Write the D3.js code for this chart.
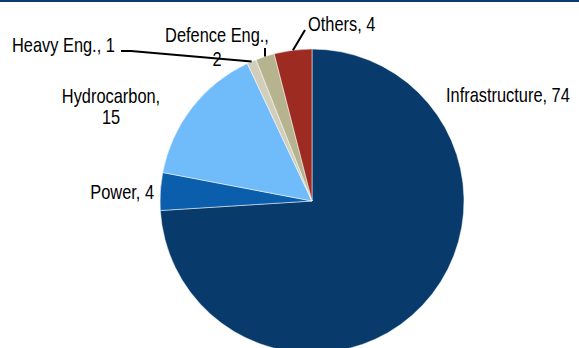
<!DOCTYPE html>
<html>
<head>
<meta charset="utf-8">
<script src="https://cdn.jsdelivr.net/npm/d3@7"></script>
<style>
  html, body { margin: 0; padding: 0; background: #fff; }
  svg { display: block; }
  text { font-family: "Liberation Sans", Arial, sans-serif; font-size: 20px; fill: #000; }
</style>
</head>
<body>
<div id="chart"></div>
<script>
  // Order of business by segment (%), clockwise from 12 o'clock
  const segments = ['Infrastructure', 'Power', 'Hydrocarbon', 'Heavy Eng.', 'Defence Eng.', 'Others'];
  const shares = [74, 4, 15, 1, 2, 4];
  const colors = ['#083a6b', '#0a5eab', '#70bbf9', '#d1cfbc', '#b6b38f', '#9e2b21'];

  const width = 579, height = 348;
  const cx = 312, cy = 201, radius = 152;
  const squeeze = 0.82; // fake a narrow face, no condensed font installed

  // label layout: lines, anchor, x, first baseline, line gap; leader end points
  const labelLayout = {
    'Infrastructure': { lines: ['Infrastructure,  74'], anchor: 'start', x: 446, y: 102 },
    'Power': { lines: ['Power, 4'], anchor: 'end', x: 154, y: 199 },
    'Hydrocarbon': { lines: ['Hydrocarbon,', '15'], anchor: 'middle', x: 111, y: 103, gap: 21.5 },
    'Heavy Eng.': { lines: ['Heavy Eng., 1'], anchor: 'start', x: 12, y: 52, leader: [[131, 51], [121, 51]] },
    'Defence Eng.': { lines: ['Defence Eng.,', '2'], anchor: 'middle', x: 217, y: 42, gap: 24, leader: [[265, 48]] },
    'Others': { lines: ['Others, 4'], anchor: 'start', x: 308, y: 31, leader: [[305, 30]] }
  };

  const data = segments.map((name, i) => ({ name, value: shares[i], color: colors[i] }));

  const svg = d3.select('#chart').append('svg')
    .attr('width', width)
    .attr('height', height);

  // thin rule along the top edge
  svg.append('rect')
    .attr('x', 0).attr('y', 0)
    .attr('width', width).attr('height', 2)
    .attr('fill', '#0b3a6e');

  const g = svg.append('g').attr('transform', `translate(${cx},${cy})`);

  const pie = d3.pie().sort(null).value(d => d.value);
  const arc = d3.arc().innerRadius(0).outerRadius(radius);
  const edgeArc = d3.arc().innerRadius(radius).outerRadius(radius);
  const arcs = pie(data);

  g.selectAll('path')
    .data(arcs)
    .enter().append('path')
    .attr('d', arc)
    .attr('fill', d => d.data.color)
    .attr('stroke', '#ffffff')
    .attr('stroke-width', 0.5);

  // leaders
  arcs.forEach(d => {
    const lay = labelLayout[d.data.name];
    if (!lay.leader) return;
    const p = edgeArc.centroid(d);
    const pts = [[p[0] + cx, p[1] + cy]].concat(lay.leader);
    svg.append('path')
      .attr('d', d3.line()(pts))
      .attr('fill', 'none')
      .attr('stroke', '#000')
      .attr('stroke-width', 2);
  });

  // labels
  arcs.forEach(d => {
    const lay = labelLayout[d.data.name];
    const t = svg.append('text')
      .attr('text-anchor', lay.anchor)
      .attr('transform', `translate(${lay.x},${lay.y}) scale(${squeeze},1)`);
    lay.lines.forEach((ln, i) => {
      t.append('tspan')
        .attr('x', 0)
        .attr('y', i * (lay.gap || 0))
        .text(ln);
    });
  });
</script>
</body>
</html>
